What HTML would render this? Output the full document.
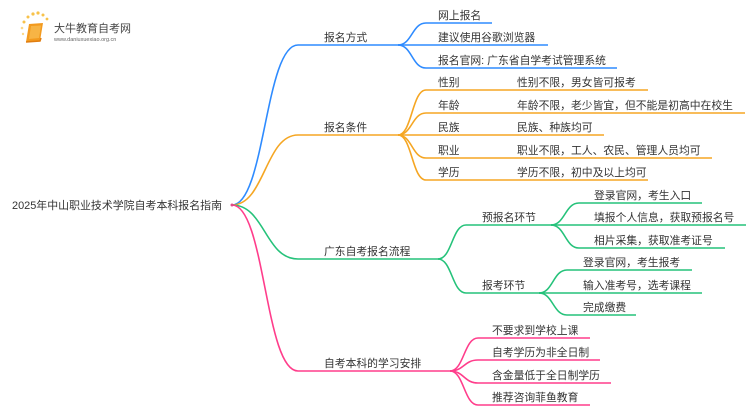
<!DOCTYPE html>
<html><head><meta charset="utf-8"><style>
html,body{margin:0;padding:0;background:#fff;width:750px;height:410px;overflow:hidden}
svg text{font-family:"Liberation Sans","Noto Sans CJK SC",sans-serif;font-size:10.8px;fill:#333}
</style></head><body>
<svg width="750" height="410" viewBox="0 0 750 410" xmlns="http://www.w3.org/2000/svg">
<!-- logo -->
<g>
<circle cx="24" cy="22" r="1.5" fill="#f8c24a"/><circle cx="28" cy="17" r="1.5" fill="#f8c24a"/><circle cx="33" cy="14" r="1.6" fill="#f8c24a"/><circle cx="38" cy="13" r="1.6" fill="#f8c24a"/><circle cx="43" cy="15" r="1.5" fill="#f8c24a"/><circle cx="47" cy="19" r="1.4" fill="#f8c24a"/><circle cx="22" cy="28" r="1.3" fill="#fbd88a"/><circle cx="23" cy="34" r="1.2" fill="#fbd88a"/>
<path d="M29 24 L43 23 L40 41 L26 42 Z" fill="#f39a1e"/>
<path d="M31 26 L41 25.5 L39 38 L29 39 Z" fill="#f7b445"/>
<path d="M26 42 L40 41 L41 38" fill="none" stroke="#e07d10" stroke-width="1.5"/>
<text x="54" y="32" style="font-size:11px;fill:#444">大牛教育自考网</text>
<text x="54" y="41" style="font-size:5.5px;fill:#666">www.daniuxuexiao.org.cn</text>
</g>
<g fill="none" stroke-width="1.6">
<path d="M232 205 C265 205,265 45,298 45 H400" stroke="#2e8bff"/>
<path d="M232 205 C265 205,265 135,298 135 H400" stroke="#f5a623"/>
<path d="M232 205 C265 205,265 259,298 259 H440" stroke="#25c27a"/>
<path d="M232 205 C265 205,265 371,298 371 H452" stroke="#ff3d8b"/>
<g stroke="#2e8bff">
<path d="M398 45 C412 45,412 23,426 23 H492"/>
<path d="M398 45 H548"/>
<path d="M398 45 C412 45,412 68,426 68 H617"/>
</g>
<g stroke="#f5a623">
<path d="M398 135 C412 135,412 90,426 90 H648"/>
<path d="M398 135 C412 135,412 113,426 113 H745"/>
<path d="M398 135 H604"/>
<path d="M398 135 C412 135,412 158,426 158 H712"/>
<path d="M398 135 C412 135,412 180,426 180 H648"/>
</g>
<g stroke="#25c27a">
<path d="M438 259 C452 259,452 225,466 225 H553"/>
<path d="M438 259 C452 259,452 293,466 293 H541"/>
<path d="M551 225 C565 225,565 203,579 203 H702"/>
<path d="M551 225 H746"/>
<path d="M551 225 C565 225,565 248,579 248 H725"/>
<path d="M539 293 C553 293,553 270,567 270 H692"/>
<path d="M539 293 H702"/>
<path d="M539 293 C553 293,553 315,567 315 H636"/>
</g>
<g stroke="#ff3d8b">
<path d="M450 371 C464 371,464 338,478 338 H590"/>
<path d="M450 371 C464 371,464 360,478 360 H600"/>
<path d="M450 371 C464 371,464 383,478 383 H611"/>
<path d="M450 371 C464 371,464 405,478 405 H590"/>
</g>
</g>
<circle cx="232" cy="205" r="1.5" fill="#e04a8a"/>
<text x="12" y="209" textLength="210" lengthAdjust="spacingAndGlyphs">2025年中山职业技术学院自考本科报名指南</text>
<text x="324" y="41">报名方式</text>
<text x="324" y="131">报名条件</text>
<text x="324" y="255">广东自考报名流程</text>
<text x="324" y="367">自考本科的学习安排</text>
<text x="438" y="19">网上报名</text>
<text x="438" y="41">建议使用谷歌浏览器</text>
<text x="438" y="64">报名官网: 广东省自学考试管理系统</text>
<text x="438" y="86">性别</text><text x="517" y="86">性别不限，男女皆可报考</text>
<text x="438" y="109">年龄</text><text x="517" y="109">年龄不限，老少皆宜，但不能是初高中在校生</text>
<text x="438" y="131">民族</text><text x="517" y="131">民族、种族均可</text>
<text x="438" y="154">职业</text><text x="517" y="154">职业不限，工人、农民、管理人员均可</text>
<text x="438" y="176">学历</text><text x="517" y="176">学历不限，初中及以上均可</text>
<text x="482" y="221">预报名环节</text>
<text x="482" y="289">报考环节</text>
<text x="594" y="199">登录官网，考生入口</text>
<text x="594" y="221">填报个人信息，获取预报名号</text>
<text x="594" y="244">相片采集，获取准考证号</text>
<text x="583" y="266">登录官网，考生报考</text>
<text x="583" y="289">输入准考号，选考课程</text>
<text x="583" y="311">完成缴费</text>
<text x="492" y="334">不要求到学校上课</text>
<text x="492" y="356">自考学历为非全日制</text>
<text x="492" y="379">含金量低于全日制学历</text>
<text x="492" y="401">推荐咨询菲鱼教育</text>
</svg>
</body></html>
